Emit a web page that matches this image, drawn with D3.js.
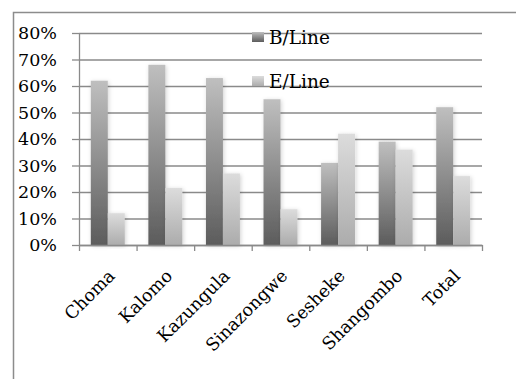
<!DOCTYPE html>
<html>
<head>
<meta charset="utf-8">
<script src="https://cdn.jsdelivr.net/npm/d3@7"></script>
<style>
  body { margin: 0; background: #fff; }
  svg text { font-family: "DejaVu Serif", serif; fill: #000; }
</style>
</head>
<body>
<div id="chart"></div>
<script>
// data
const districts = ["Choma", "Kalomo", "Kazungula", "Sinazongwe", "Sesheke", "Shangombo", "Total"];
const seriesNames = ["B/Line", "E/Line"];
const bLine = [0.62, 0.68, 0.63, 0.55, 0.31, 0.39, 0.52];
const eLine = [0.12, 0.215, 0.27, 0.135, 0.42, 0.36, 0.26];
const yTicks = [0, 0.1, 0.2, 0.3, 0.4, 0.5, 0.6, 0.7, 0.8];

const width = 516;
const height = 379;
const plot = {left: 79, right: 482, top: 33, bottom: 245};

const svg = d3.select("#chart")
    .append("svg")
    .attr("width", width)
    .attr("height", height);

// gradients + soft shadow
const defs = svg.append("defs");
const grads = [
    {id: "gradB", top: "#bfbfbf", bottom: "#5c5c5c"},
    {id: "gradE", top: "#dcdcdc", bottom: "#acacac"}
];
grads.forEach(g => {
    const lg = defs.append("linearGradient")
        .attr("id", g.id)
        .attr("x1", 0).attr("y1", 0).attr("x2", 0).attr("y2", 1);
    lg.append("stop").attr("offset", "0%").attr("stop-color", g.top);
    lg.append("stop").attr("offset", "100%").attr("stop-color", g.bottom);
});
const shadow = defs.append("filter")
    .attr("id", "shadow")
    .attr("x", "-50%").attr("y", "-10%")
    .attr("width", "200%").attr("height", "120%");
shadow.append("feDropShadow")
    .attr("dx", 1).attr("dy", 1)
    .attr("stdDeviation", 2)
    .attr("flood-color", "#000")
    .attr("flood-opacity", 0.18);

// outer frame (runs off the right and bottom edges)
svg.append("rect")
    .attr("x", 13.5)
    .attr("y", 12.5)
    .attr("width", 600)
    .attr("height", 500)
    .attr("fill", "none")
    .attr("stroke", "#8c8c8c")
    .attr("stroke-width", 1.5);

// scales
const yScale = d3.scaleLinear()
    .domain([0, 0.8])
    .range([plot.bottom, plot.top]);

const x0 = d3.scaleBand()
    .domain(districts)
    .range([plot.left, plot.right])
    .paddingInner(0.41)
    .paddingOuter(0.205);

const x1 = d3.scaleBand()
    .domain(seriesNames)
    .range([0, x0.bandwidth()]);

const xTicks = d3.scaleLinear()
    .domain([0, districts.length])
    .range([plot.left, plot.right]);

// gridlines
svg.append("g")
    .attr("class", "grid")
    .attr("transform", `translate(${plot.left},0)`)
    .call(d3.axisLeft(yScale)
        .tickValues(yTicks)
        .tickSize(-(plot.right - plot.left))
        .tickFormat(""))
    .call(g => g.select(".domain").remove())
    .call(g => g.selectAll("line")
        .attr("stroke", "#8a8a8a")
        .attr("stroke-width", 1.3));

// y axis
const yAxis = svg.append("g")
    .attr("transform", `translate(${plot.left},0)`)
    .call(d3.axisLeft(yScale)
        .tickValues(yTicks)
        .tickSize(7)
        .tickSizeOuter(0)
        .tickPadding(15)
        .tickFormat(d3.format(".0%")));
yAxis.select(".domain").attr("stroke", "#8a8a8a").attr("stroke-width", 1.3);
yAxis.selectAll("line").attr("stroke", "#8a8a8a").attr("stroke-width", 1.3);
yAxis.selectAll("text")
    .style("font-family", "'DejaVu Serif', serif")
    .style("font-size", "17.5px")
    .attr("fill", "#000");

// bars
const rows = districts.map((d, i) => ({district: d, values: [bLine[i], eLine[i]]}));

const groups = svg.append("g")
    .selectAll("g")
    .data(rows)
    .enter()
    .append("g")
    .attr("transform", d => `translate(${x0(d.district)},0)`);

groups.selectAll("rect")
    .data(d => d.values.map((v, j) => ({name: seriesNames[j], value: v})))
    .enter()
    .append("rect")
    .attr("x", d => x1(d.name))
    .attr("y", d => yScale(d.value))
    .attr("width", x1.bandwidth())
    .attr("height", d => yScale(0) - yScale(d.value))
    .attr("fill", d => d.name === "B/Line" ? "url(#gradB)" : "url(#gradE)")
    .attr("filter", "url(#shadow)");

// x axis
const xAxis = svg.append("g")
    .attr("transform", `translate(0,${plot.bottom})`)
    .call(d3.axisBottom(xTicks)
        .tickValues(d3.range(districts.length + 1))
        .tickSize(6)
        .tickSizeOuter(0)
        .tickFormat(""));
xAxis.select(".domain").attr("stroke", "#8a8a8a").attr("stroke-width", 1.3);
xAxis.selectAll("line").attr("stroke", "#8a8a8a").attr("stroke-width", 1.3);

// category labels, rotated
svg.append("g")
    .selectAll(".catLabel")
    .data(districts)
    .enter()
    .append("text")
    .attr("class", "catLabel")
    .attr("text-anchor", "end")
    .attr("transform", d => `translate(${x0(d) + x0.bandwidth() / 2 + 8},277) rotate(-45)`)
    .style("font-size", "17.5px")
    .text(d => d);

// legend
const legend = svg.append("g")
    .selectAll(".legendItem")
    .data(seriesNames)
    .enter()
    .append("g")
    .attr("class", "legendItem")
    .attr("transform", (d, i) => `translate(252,${32 + i * 44})`);

legend.append("rect")
    .attr("width", 12)
    .attr("height", 10)
    .attr("fill", d => d === "B/Line" ? "url(#gradB)" : "url(#gradE)");

legend.append("text")
    .attr("x", 17)
    .attr("y", 12)
    .style("font-size", "18.5px")
    .text(d => d);
</script>
</body>
</html>
